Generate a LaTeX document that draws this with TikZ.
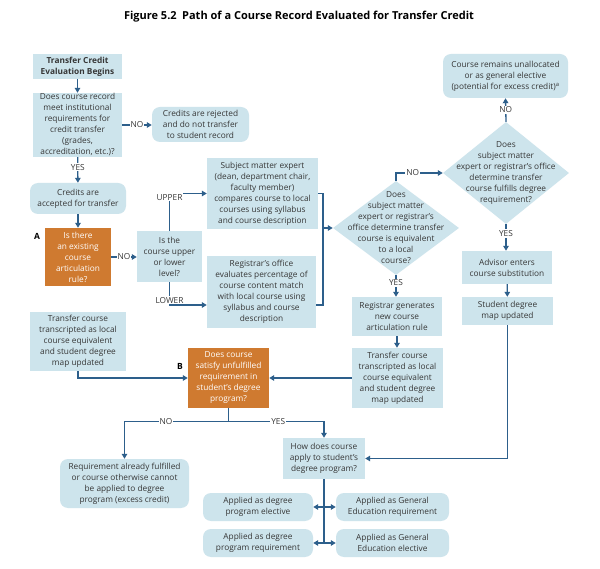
\documentclass[tikz,border=0pt]{standalone}
\usepackage{fontspec}
\setmainfont{Open Sans}
\usetikzlibrary{arrows.meta,shapes.geometric,calc}
\definecolor{lb}{HTML}{CDE4EC}
\definecolor{orb}{HTML}{CF7A30}
\definecolor{ln}{HTML}{2D5F8B}
\definecolor{tx}{HTML}{363636}
\newcommand\fs{\fontsize{8.3}{11}\selectfont}
\newcommand\bx[7]{\node[#6, minimum width={#4-#2}, minimum height={#5-#3}] (#1) at ({(#2+#4)/2},{(#3+#5)/2}) {#7};}
\tikzset{
  box/.style={fill=lb, draw=none, align=center, inner sep=0pt, font=\fs, text=tx},
  rbox/.style={box, rounded corners=8pt},
  obox/.style={box, fill=orb, text=white},
  dia/.style={diamond, fill=lb, draw=none, inner sep=0pt, aspect=1},
  dtxt/.style={align=center, font=\fs, text=tx, inner sep=0pt},
  lab/.style={fill=white, inner sep=1pt, font=\fs, text=tx},
  ltr/.style={font=\fontsize{8.5}{9}\selectfont\bfseries, text=black},
  ln/.style={draw=ln, line width=1.3pt},
  arr/.style={ln, -{Triangle[length=5pt,width=5.5pt]}},
}
\begin{document}
\begin{tikzpicture}[x=1pt,y=-1pt]
\useasboundingbox[fill=white] (0,0) rectangle (600,569);
\node[font=\fontsize{11}{13}\selectfont\bfseries, text=black] (title) at (299,17) {Figure 5.2\enspace Path of a Course Record Evaluated for Transfer Credit};

\bx{start}{33}{54}{122}{79}{box}{\bfseries Transfer Credit\\\bfseries Evaluation Begins}
\bx{q1}{33}{93}{122}{157}{box}{Does course record\\meet institutional\\requirements for\\credit transfer\\(grades,\\accreditation, etc.)?}
\bx{rej}{152}{107}{249}{142}{rbox}{Credits are rejected\\and do not transfer\\to student record}
\bx{acc}{30}{183}{126}{214}{rbox}{Credits are\\accepted for transfer}
\bx{A}{45}{228}{111}{286}{obox}{Is there\\an existing\\course\\articulation\\rule?}
\node[ltr] (Alab) at (37,236) {A};
\bx{ul}{137}{231}{202}{282}{box}{Is the\\course upper\\or lower\\level?}
\bx{sme}{207}{158}{318}{229}{box}{Subject matter expert\\(dean, department chair,\\faculty member)\\compares course to local\\courses using syllabus\\and course description}
\bx{reg}{207}{256}{316}{328}{box}{Registrar’s office\\evaluates percentage of\\course content match\\with local course using\\syllabus and course\\description}
\bx{tr1}{30}{312}{126}{371}{box}{Transfer course\\transcripted as local\\course equivalent\\and student degree\\map updated}

\node[dia, minimum width=126, minimum height=94] (d1) at (396,228) {};
\node[dtxt] (d1t) at (d1) {Does\\subject matter\\expert or registrar’s\\office determine transfer\\course is equivalent\\to a local\\course?};
\node[dia, minimum width=126, minimum height=102] (d2) at (506,173) {};
\node[dtxt] (d2t) at (d2) {Does\\subject matter\\expert or registrar’s office\\determine transfer\\course fulfills degree\\requirement?};

\bx{unal}{443}{54}{568}{98}{rbox}{Course remains unallocated\\or as general elective\\(potential for excess credit)\textsuperscript{a}}
\bx{adv}{462}{251}{552}{284}{box}{Advisor enters\\course substitution}
\bx{sdm}{462}{297}{553}{325}{box}{Student degree\\map updated}
\bx{rgen}{352}{297}{442}{336}{box}{Registrar generates\\new course\\articulation rule}
\bx{tr2}{352}{348}{443}{408}{box}{Transfer course\\transcripted as local\\course equivalent\\and student degree\\map updated}
\bx{B}{188}{348}{269}{408}{obox}{Does course\\satisfy unfulfilled\\requirement in\\student’s degree\\program?}
\node[ltr] (Blab) at (180,366) {B};
\bx{req}{60}{459}{189}{508}{rbox}{Requirement already fulfilled\\or course otherwise cannot\\be applied to degree\\program (excess credit)}
\bx{how}{283}{438}{365}{479}{box}{How does course\\apply to student’s\\degree program?}
\bx{e1}{203}{493}{313}{521}{rbox}{Applied as degree\\program elective}
\bx{g1}{336}{493}{449}{521}{rbox}{Applied as General\\Education requirement}
\bx{e2}{203}{529}{313}{557}{rbox}{Applied as degree\\program requirement}
\bx{g2}{336}{529}{449}{557}{rbox}{Applied as General\\Education elective}

% connectors
\draw[arr] (start) -- (q1);
\draw[arr] (q1.east) -- node[lab]{NO} (rej.west |- q1.east);
\draw[arr] (q1) -- node[lab, pos=0.4]{YES} (acc);
\draw[arr] (acc) -- (A);
\draw[arr] (A.east) -- node[lab]{NO} (ul.west |- A.east);
\draw[arr] (ul.north) |- node[lab, pos=0.45]{UPPER} (sme.west);
\draw[arr] (ul.south) |- node[lab, pos=0.4]{LOWER} (reg.west |- 0,305);
\coordinate (bk) at (323,228);
\draw[ln] (sme.east) -| (bk);
\draw[ln] (reg.east |- 0,305) -| (bk);
\draw[arr] (bk) -- (d1.west);
\draw[arr] (d1.north) |- node[lab, pos=0.68]{NO} (d2.west);
\draw[arr] (d2.north) -- node[lab, pos=0.5]{NO} (unal.south);
\draw[arr] (d2.south) -- node[lab, pos=0.35]{YES} (adv.north -| d2.south);
\draw[arr] (adv) -- (sdm);
\draw[arr] (sdm.south) |- (how.east);
\draw[arr] (d1.south) -- node[lab, pos=0.35]{YES} (rgen.north -| d1.south);
\draw[arr] (rgen) -- (tr2.north -| rgen.south);
\draw[arr] (tr2.west) -- (B.east);
\draw[arr] (tr1.south) |- (B.west);
\coordinate (bs) at ($(B.south)+(0,13)$);
\draw[arr] (B.south) -- (bs) -| node[lab, pos=0.3]{NO} (req.north);
\draw[arr] (bs) -| node[lab, pos=0.26]{YES} (how.north);
\coordinate (j1) at (how.south |- e1.east);
\coordinate (j2) at (how.south |- e2.east);
\draw[ln] (how.south) -- (j2);
\draw[arr] (j1) -- (e1.east);
\draw[arr] (j1) -- (g1.west);
\draw[arr] (j2) -- (e2.east);
\draw[arr] (j2) -- (g2.west);
\end{tikzpicture}
\end{document}
